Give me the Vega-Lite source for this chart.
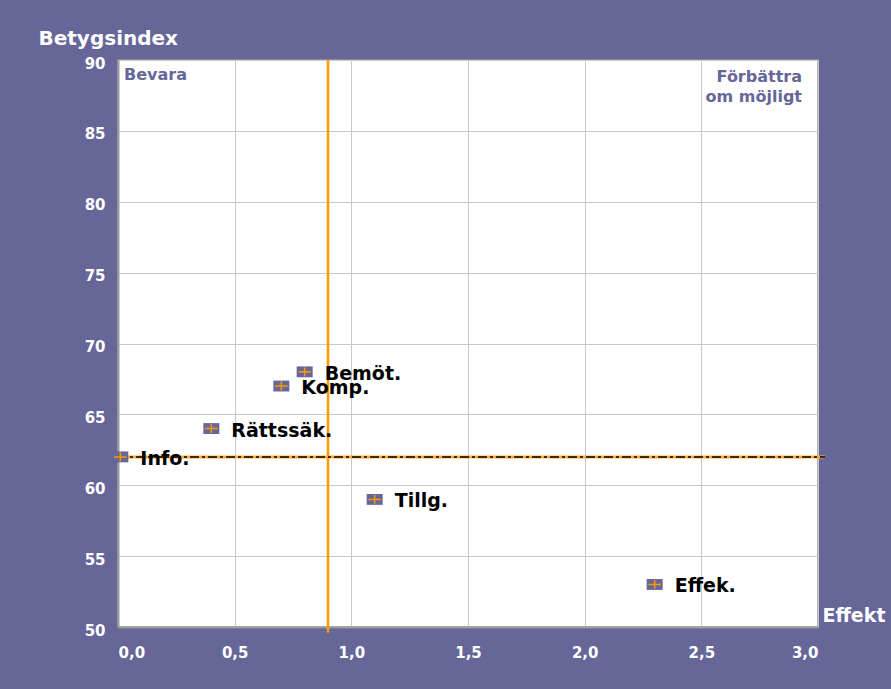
{
  "$schema": "https://vega.github.io/schema/vega-lite/v6.json",
  "width": 700,
  "height": 567,
  "autosize": {"type": "none"},
  "padding": {"left": 118, "top": 60, "right": 73, "bottom": 62},
  "background": "#666699",
  "config": {
    "view": {"fill": "#ffffff", "stroke": "#999999", "strokeWidth": 1.5},
    "font": "DejaVu Sans",
    "axis": {
      "labelColor": "#ffffff",
      "labelFont": "DejaVu Sans",
      "labelFontWeight": "bold",
      "labelFontSize": 15,
      "titleColor": "#ffffff",
      "titleFont": "DejaVu Sans",
      "titleFontWeight": "bold",
      "gridColor": "#c8c8c8",
      "gridWidth": 1,
      "ticks": false,
      "domainColor": "#999999",
      "domainWidth": 2
    }
  },
  "datasets": {
    "pts": [
      {"label": "Info.", "effekt": 0.01, "index": 62},
      {"label": "Bemöt.", "effekt": 0.8, "index": 68},
      {"label": "Komp.", "effekt": 0.7, "index": 67},
      {"label": "Rättssäk.", "effekt": 0.4, "index": 64},
      {"label": "Tillg.", "effekt": 1.1, "index": 59},
      {"label": "Effek.", "effekt": 2.3, "index": 53}
    ],
    "vline": [{"effekt": 0.9, "lo": 49.6, "hi": 90}],
    "hline": [{"x1": 0, "x2": 3.03, "index": 62}],
    "q1": [{"effekt": 0, "index": 90, "text": "Bevara"}],
    "q2": [{"effekt": 3, "index": 90, "text": ["Förbättra", "om möjligt"]}]
  },
  "layer": [
    {
      "data": {"name": "pts"},
      "mark": {"type": "point", "opacity": 0},
      "encoding": {
        "x": {
          "field": "effekt", "type": "quantitative",
          "scale": {"domain": [0, 3], "nice": false, "zero": false},
          "axis": {
            "values": [0, 0.5, 1, 1.5, 2, 2.5, 3],
            "labelExpr": "replace(format(datum.value, '.1f'), '.', ',')",
            "labelPadding": 18,
            "labelBaseline": "top",
            "title": "Effekt",
            "titleFontSize": 19,
            "titleAlign": "left",
            "titleBaseline": "alphabetic",
            "titleX": 704,
            "titleY": -6,
            "grid": true
          }
        },
        "y": {
          "field": "index", "type": "quantitative",
          "scale": {"domain": [50, 90], "nice": false, "zero": false},
          "axis": {
            "values": [50, 55, 60, 65, 70, 75, 80, 85, 90],
            "labelPadding": 13,
            "labelOffset": 3,
            "title": "Betygsindex",
            "titleFontSize": 20,
            "titleAngle": 0,
            "titleAlign": "left",
            "titleBaseline": "alphabetic",
            "titleX": -80,
            "titleY": -16,
            "grid": true
          }
        }
      }
    },
    {
      "data": {"name": "vline"},
      "mark": {"type": "rule", "color": "#ff9900", "strokeWidth": 2.5, "clip": false},
      "encoding": {
        "x": {"field": "effekt", "type": "quantitative"},
        "y": {"field": "lo", "type": "quantitative"},
        "y2": {"field": "hi"}
      }
    },
    {
      "data": {"name": "hline"},
      "mark": {"type": "rule", "color": "#ffaa33", "strokeWidth": 3, "clip": false},
      "encoding": {
        "x": {"field": "x1", "type": "quantitative"},
        "x2": {"field": "x2"},
        "y": {"field": "index", "type": "quantitative"}
      }
    },
    {
      "data": {"name": "hline"},
      "mark": {"type": "rule", "color": "#000000", "strokeWidth": 1.5, "strokeDash": [9, 3, 3, 3], "clip": false},
      "encoding": {
        "x": {"field": "x1", "type": "quantitative"},
        "x2": {"field": "x2"},
        "y": {"field": "index", "type": "quantitative"}
      }
    },
    {
      "data": {"name": "pts"},
      "mark": {
        "type": "point",
        "shape": "M-1,-0.68L1,-0.68L1,0.68L-1,0.68Z",
        "filled": true,
        "fill": "#666699",
        "opacity": 1,
        "strokeWidth": 0,
        "size": 256,
        "clip": false
      },
      "encoding": {
        "x": {"field": "effekt", "type": "quantitative"},
        "y": {"field": "index", "type": "quantitative"}
      }
    },
    {
      "data": {"name": "pts"},
      "mark": {
        "type": "point",
        "shape": "M-0.78,0L0.78,0M0,-0.55L0,0.55",
        "filled": false,
        "stroke": "#ff9900",
        "opacity": 1,
        "strokeWidth": 1.5,
        "size": 256,
        "clip": false
      },
      "encoding": {
        "x": {"field": "effekt", "type": "quantitative"},
        "y": {"field": "index", "type": "quantitative"}
      }
    },
    {
      "data": {"name": "pts"},
      "mark": {
        "type": "text",
        "align": "left",
        "baseline": "middle",
        "dx": 20,
        "dy": 2,
        "font": "DejaVu Sans",
        "fontWeight": "bold",
        "fontSize": 19,
        "color": "#000000"
      },
      "encoding": {
        "x": {"field": "effekt", "type": "quantitative"},
        "y": {"field": "index", "type": "quantitative"},
        "text": {"field": "label"}
      }
    },
    {
      "data": {"name": "q1"},
      "mark": {
        "type": "text",
        "align": "left",
        "baseline": "alphabetic",
        "dx": 6,
        "dy": 20,
        "font": "DejaVu Sans",
        "fontWeight": "bold",
        "fontSize": 16,
        "color": "#666699"
      },
      "encoding": {
        "x": {"field": "effekt", "type": "quantitative"},
        "y": {"field": "index", "type": "quantitative"},
        "text": {"field": "text"}
      }
    },
    {
      "data": {"name": "q2"},
      "mark": {
        "type": "text",
        "align": "right",
        "baseline": "alphabetic",
        "dx": -16,
        "dy": 22,
        "lineHeight": 20,
        "font": "DejaVu Sans",
        "fontWeight": "bold",
        "fontSize": 16,
        "color": "#666699"
      },
      "encoding": {
        "x": {"field": "effekt", "type": "quantitative"},
        "y": {"field": "index", "type": "quantitative"},
        "text": {"field": "text"}
      }
    }
  ]
}
